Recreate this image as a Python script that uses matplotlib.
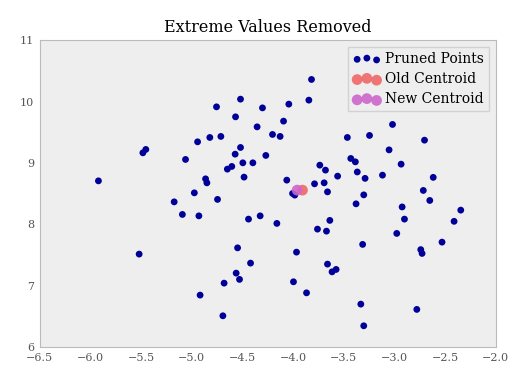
import numpy as np
import matplotlib
matplotlib.use('Agg')
import matplotlib.pyplot as plt

# pruned points
x_pts = [-5.483, -5.454, -4.943, -4.822, -5.062, -5.922, -4.864, -4.851, -3.818, -3.844,
         -4.519, -4.756, -4.302, -4.568, -4.042, -4.094, -4.355, -4.203, -4.128, -4.713,
         -4.519, -4.572, -4.269, -4.496, -4.397, -4.649, -4.605, -4.484, -4.062, -3.464,
         -3.430, -3.385, -3.736, -3.680, -3.560, -3.366, -3.018, -3.245, -2.702, -3.052,
         -2.933, -3.289, -3.117, -2.616, -3.302, -2.714, -2.650, -3.378, -2.923, -2.344,
         -2.900, -2.410, -2.976, -2.529, -3.313, -2.739, -2.726, -3.331, -2.778, -3.302,
         -3.788, -3.693, -3.660, -4.975, -4.746, -4.005, -5.174, -5.093, -4.930, -4.440,
         -4.325, -4.160, -3.637, -3.759, -3.670, -4.548, -3.966, -4.420, -3.660, -3.575,
         -3.615, -4.562, -4.529, -4.681, -3.996, -3.867, -4.918, -4.693, -5.520, -3.983]
y_pts = [9.165, 9.220, 9.344, 9.415, 9.057, 8.708, 8.741, 8.676, 10.36, 10.023,
         10.039, 9.914, 9.897, 9.751, 9.958, 9.681, 9.588, 9.464, 9.432, 9.432,
         9.252, 9.143, 9.122, 9.002, 9.002, 8.899, 8.943, 8.769, 8.720, 9.415,
         9.073, 9.018, 8.964, 8.883, 8.785, 8.853, 9.627, 9.448, 9.371, 9.213,
         8.980, 8.749, 8.801, 8.765, 8.480, 8.552, 8.389, 8.334, 8.283, 8.231,
         8.085, 8.049, 7.852, 7.710, 7.673, 7.588, 7.526, 6.700, 6.614, 6.347,
         8.660, 8.676, 8.529, 8.513, 8.406, 8.503, 8.366, 8.161, 8.138, 8.085,
         8.138, 8.015, 8.064, 7.922, 7.889, 7.617, 7.547, 7.368, 7.352, 7.265,
         7.226, 7.205, 7.103, 7.042, 7.064, 6.884, 6.847, 6.510, 7.515, 8.476]

old_centroid = (-3.907, 8.557)
new_centroid = (-3.960, 8.557)

plt.rcParams['font.family'] = ['DejaVu Serif']

fig = plt.figure(figsize=(5.25, 3.9), dpi=100)
ax = fig.add_axes([0.076, 0.11, 0.868, 0.787])
ax.set_facecolor('#eeeeee')

ax.scatter(x_pts, y_pts, s=24, color='#000099', edgecolors='none', label='Pruned Points', zorder=2)
ax.scatter([old_centroid[0]], [old_centroid[1]], s=60, color='#f06868', alpha=0.9,
           edgecolors='none', label='Old Centroid', zorder=3)
ax.scatter([new_centroid[0]], [new_centroid[1]], s=60, color='#cc66cc', alpha=0.9,
           edgecolors='none', label='New Centroid', zorder=4)

ax.set_xlim(-6.5, -2.0)
ax.set_ylim(6, 11)
ax.set_xticks(np.arange(-6.5, -1.9, 0.5))
ax.tick_params(length=0, labelsize=8, labelcolor='#555555', pad=4)
for s in ax.spines.values():
    s.set_color('#bbbbbb')

ax.set_title('Extreme Values Removed', fontsize=11.5)
leg = ax.legend(loc='upper right', fontsize=10, scatterpoints=3, handletextpad=0.3,
                borderpad=0.35, labelspacing=0.45, frameon=True, fancybox=False)
leg.get_frame().set_facecolor('#eeeeee')
leg.get_frame().set_edgecolor('#cccccc')

fig.savefig('out.png', dpi=100)
